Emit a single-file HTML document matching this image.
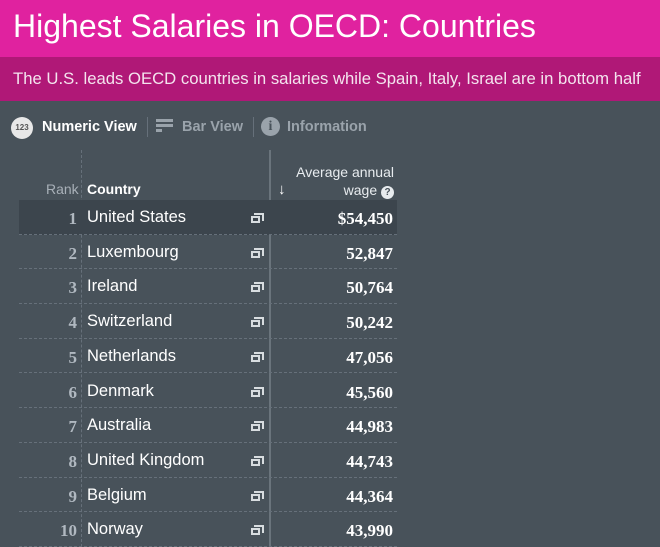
<!DOCTYPE html>
<html><head><style>
body{margin:0;width:660px;height:547px;overflow:hidden;background:#48525a;font-family:"Liberation Sans",sans-serif;position:relative}
.h1{position:absolute;left:0;top:0;width:660px;height:57px;background:#e0229f;color:#fff;font-size:32px;line-height:52px;padding-left:13px;box-sizing:border-box}
.h2{position:absolute;left:0;top:57px;width:660px;height:44px;background:#b01877;color:#f4e4ee;font-size:16.7px;line-height:44px;padding-left:13px;box-sizing:border-box}
.nav{position:absolute;top:119px;font-size:14.5px;font-weight:bold}
.row{position:absolute;left:19px;width:378px;height:34.7px;border-bottom:1px dashed #66707a;box-sizing:border-box}
.rk{position:absolute;right:320px;font-family:"Liberation Serif",serif;font-weight:bold;color:#b0b8c0;font-size:17px;top:9px}
.ct{position:absolute;left:68px;color:#fff;font-size:16.5px;top:8px}
.ic{position:absolute;left:232px;top:16px;width:9px;height:7px;border:2px solid #d8dde0;box-sizing:border-box}
.ic:before{content:"";position:absolute;left:1px;top:-5px;width:8px;height:6px;border:2px solid #d8dde0;border-bottom:none;border-left:none}
.vl{position:absolute;right:4px;top:9px;font-family:"Liberation Serif",serif;font-weight:bold;color:#fff;font-size:17px}
</style></head><body>
<div class="h1">Highest Salaries in OECD: Countries</div>
<div class="h2">The U.S. leads OECD countries in salaries while Spain, Italy, Israel are in bottom half</div>
<div style="position:absolute;left:11px;top:117px;width:22px;height:22px;border-radius:50%;background:#e8e8e8;color:#555;font-size:8px;font-weight:bold;text-align:center;line-height:22px">123</div>
<div class="nav" style="left:42px;color:#fff">Numeric View</div>
<div style="position:absolute;left:147px;top:117px;width:1px;height:20px;background:#66707a"></div>
<div style="position:absolute;left:156px;top:119px;width:17px;height:3px;background:#9aa3ab;box-shadow:0 5px 0 -0px #9aa3ab"></div>
<div style="position:absolute;left:156px;top:129px;width:6px;height:3px;background:#9aa3ab"></div>
<div class="nav" style="left:182px;color:#9aa3ab">Bar View</div>
<div style="position:absolute;left:253px;top:117px;width:1px;height:20px;background:#66707a"></div>
<div style="position:absolute;left:261px;top:117px;width:19px;height:19px;border-radius:50%;background:#9aa3ab;color:#48525a;font-family:'Liberation Serif',serif;font-weight:bold;font-size:14px;text-align:center;line-height:19px">i</div>
<div class="nav" style="left:287px;color:#9aa3ab">Information</div>
<div style="position:absolute;left:81px;top:150px;height:397px;border-left:1px dashed #66707a"></div>
<div style="position:absolute;left:269px;top:150px;height:397px;width:2px;background:#6a747c"></div>
<div style="position:absolute;left:46px;top:181px;color:#a8b0b8;font-size:14px">Rank</div>
<div style="position:absolute;left:87px;top:181px;color:#fff;font-size:14px;font-weight:bold">Country</div>
<div style="position:absolute;left:278px;top:181px;color:#fff;font-size:15px;font-weight:bold">↓</div>
<div style="position:absolute;right:266px;top:163px;color:#e8ecef;font-size:14px;text-align:right;line-height:18px">Average annual<br>wage <span style="display:inline-block;width:13px;height:13px;border-radius:50%;background:#e8ecef;color:#48525a;font-size:10px;font-weight:bold;text-align:center;line-height:13px">?</span></div>
<div class="row" style="top:200px;background:#3c454d"><span class="rk">1</span><span class="ct">United States</span><span class="ic"></span><span class="vl">$54,450</span></div>
<div class="row" style="top:234.7px"><span class="rk">2</span><span class="ct">Luxembourg</span><span class="ic"></span><span class="vl">52,847</span></div>
<div class="row" style="top:269.4px"><span class="rk">3</span><span class="ct">Ireland</span><span class="ic"></span><span class="vl">50,764</span></div>
<div class="row" style="top:304.1px"><span class="rk">4</span><span class="ct">Switzerland</span><span class="ic"></span><span class="vl">50,242</span></div>
<div class="row" style="top:338.8px"><span class="rk">5</span><span class="ct">Netherlands</span><span class="ic"></span><span class="vl">47,056</span></div>
<div class="row" style="top:373.5px"><span class="rk">6</span><span class="ct">Denmark</span><span class="ic"></span><span class="vl">45,560</span></div>
<div class="row" style="top:408.2px"><span class="rk">7</span><span class="ct">Australia</span><span class="ic"></span><span class="vl">44,983</span></div>
<div class="row" style="top:442.9px"><span class="rk">8</span><span class="ct">United Kingdom</span><span class="ic"></span><span class="vl">44,743</span></div>
<div class="row" style="top:477.6px"><span class="rk">9</span><span class="ct">Belgium</span><span class="ic"></span><span class="vl">44,364</span></div>
<div class="row" style="top:512.3px"><span class="rk">10</span><span class="ct">Norway</span><span class="ic"></span><span class="vl">43,990</span></div>
</body></html>
